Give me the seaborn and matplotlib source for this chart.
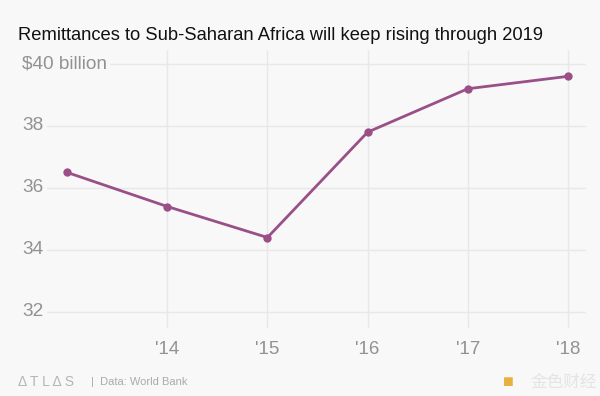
import matplotlib
matplotlib.use("Agg")
import matplotlib.pyplot as plt
import seaborn as sns

# values (billions of US dollars)
years = [2013, 2014, 2015, 2016, 2017, 2018]
remittances = [36.5, 35.4, 34.4, 37.8, 39.2, 39.6]
y_ticks = [32, 34, 36, 38, 40]
y_labels = ["32", "34", "36", "38", "$40 billion"]
x_ticks = [2014, 2015, 2016, 2017, 2018]
x_labels = ["'14", "'15", "'16", "'17", "'18"]

bg = "#f8f8f8"
line_color = "#9a5087"
grid_color = "#e8e8e8"
label_gray = "#929292"

sns.set_theme(style="white")
plt.rcParams["font.family"] = ["Liberation Sans", "DejaVu Sans"]

fig = plt.figure(figsize=(6, 3.96), dpi=100, facecolor=bg)
ax = fig.add_axes([20 / 600, 1 - 328 / 396, 566 / 600, 278 / 396])
ax.set_facecolor(bg)

# grid lines
for y in y_ticks:
    ax.axhline(y, color=grid_color, lw=1, zorder=0)
for x in x_ticks:
    ax.axvline(x, color=grid_color, lw=1, zorder=0)

sns.lineplot(x=years, y=remittances, ax=ax, color=line_color, linewidth=2,
             marker="o", markersize=6, markeredgewidth=0, zorder=3)

ax.set_xlim(2012.53, 2018.18)
ax.set_ylim(31.48, 40.45)
ax.set_xticks([])
ax.set_yticks([])
ax.set_xlabel("")
ax.set_ylabel("")
for s in ax.spines.values():
    s.set_visible(False)

# y labels sit inside the plot, covering the grid line
for y, lab in zip(y_ticks, y_labels):
    ax.text(0.0035, y, lab, transform=ax.get_yaxis_transform(), ha="left",
            va="center", fontsize=13.7, color=label_gray, zorder=2,
            bbox=dict(facecolor=bg, edgecolor="none", pad=2.5))

# x labels below the plot
for x, lab in zip(x_ticks, x_labels):
    ax.text(x, -0.078, lab, transform=ax.get_xaxis_transform(), ha="center",
            va="center", fontsize=13.5, color=label_gray)

fig.text(18 / 600, 1 - 35 / 396, "Remittances to Sub-Saharan Africa will keep rising through 2019",
         ha="left", va="center", fontsize=13.25, color="#111111")

fig.text(18 / 600, 1 - 382 / 396, "\u0394 T L \u0394 S", ha="left", va="center",
         fontsize=10, color="#b5b5b5")
fig.text(91 / 600, 1 - 382 / 396, "|  Data: World Bank", ha="left", va="center",
         fontsize=8, color="#aaaaaa")

fig.text(508 / 600, 1 - 382 / 396, "\u25a0", ha="center", va="center",
         fontsize=13, color="#e8b040")
fig.text(597 / 600, 1 - 382 / 396, "金色财经", ha="right", va="center",
         fontsize=12, color="#e4e4e4", family=["Noto Sans CJK SC", "DejaVu Sans"])

fig.savefig("out.png", dpi=100, facecolor=bg)
